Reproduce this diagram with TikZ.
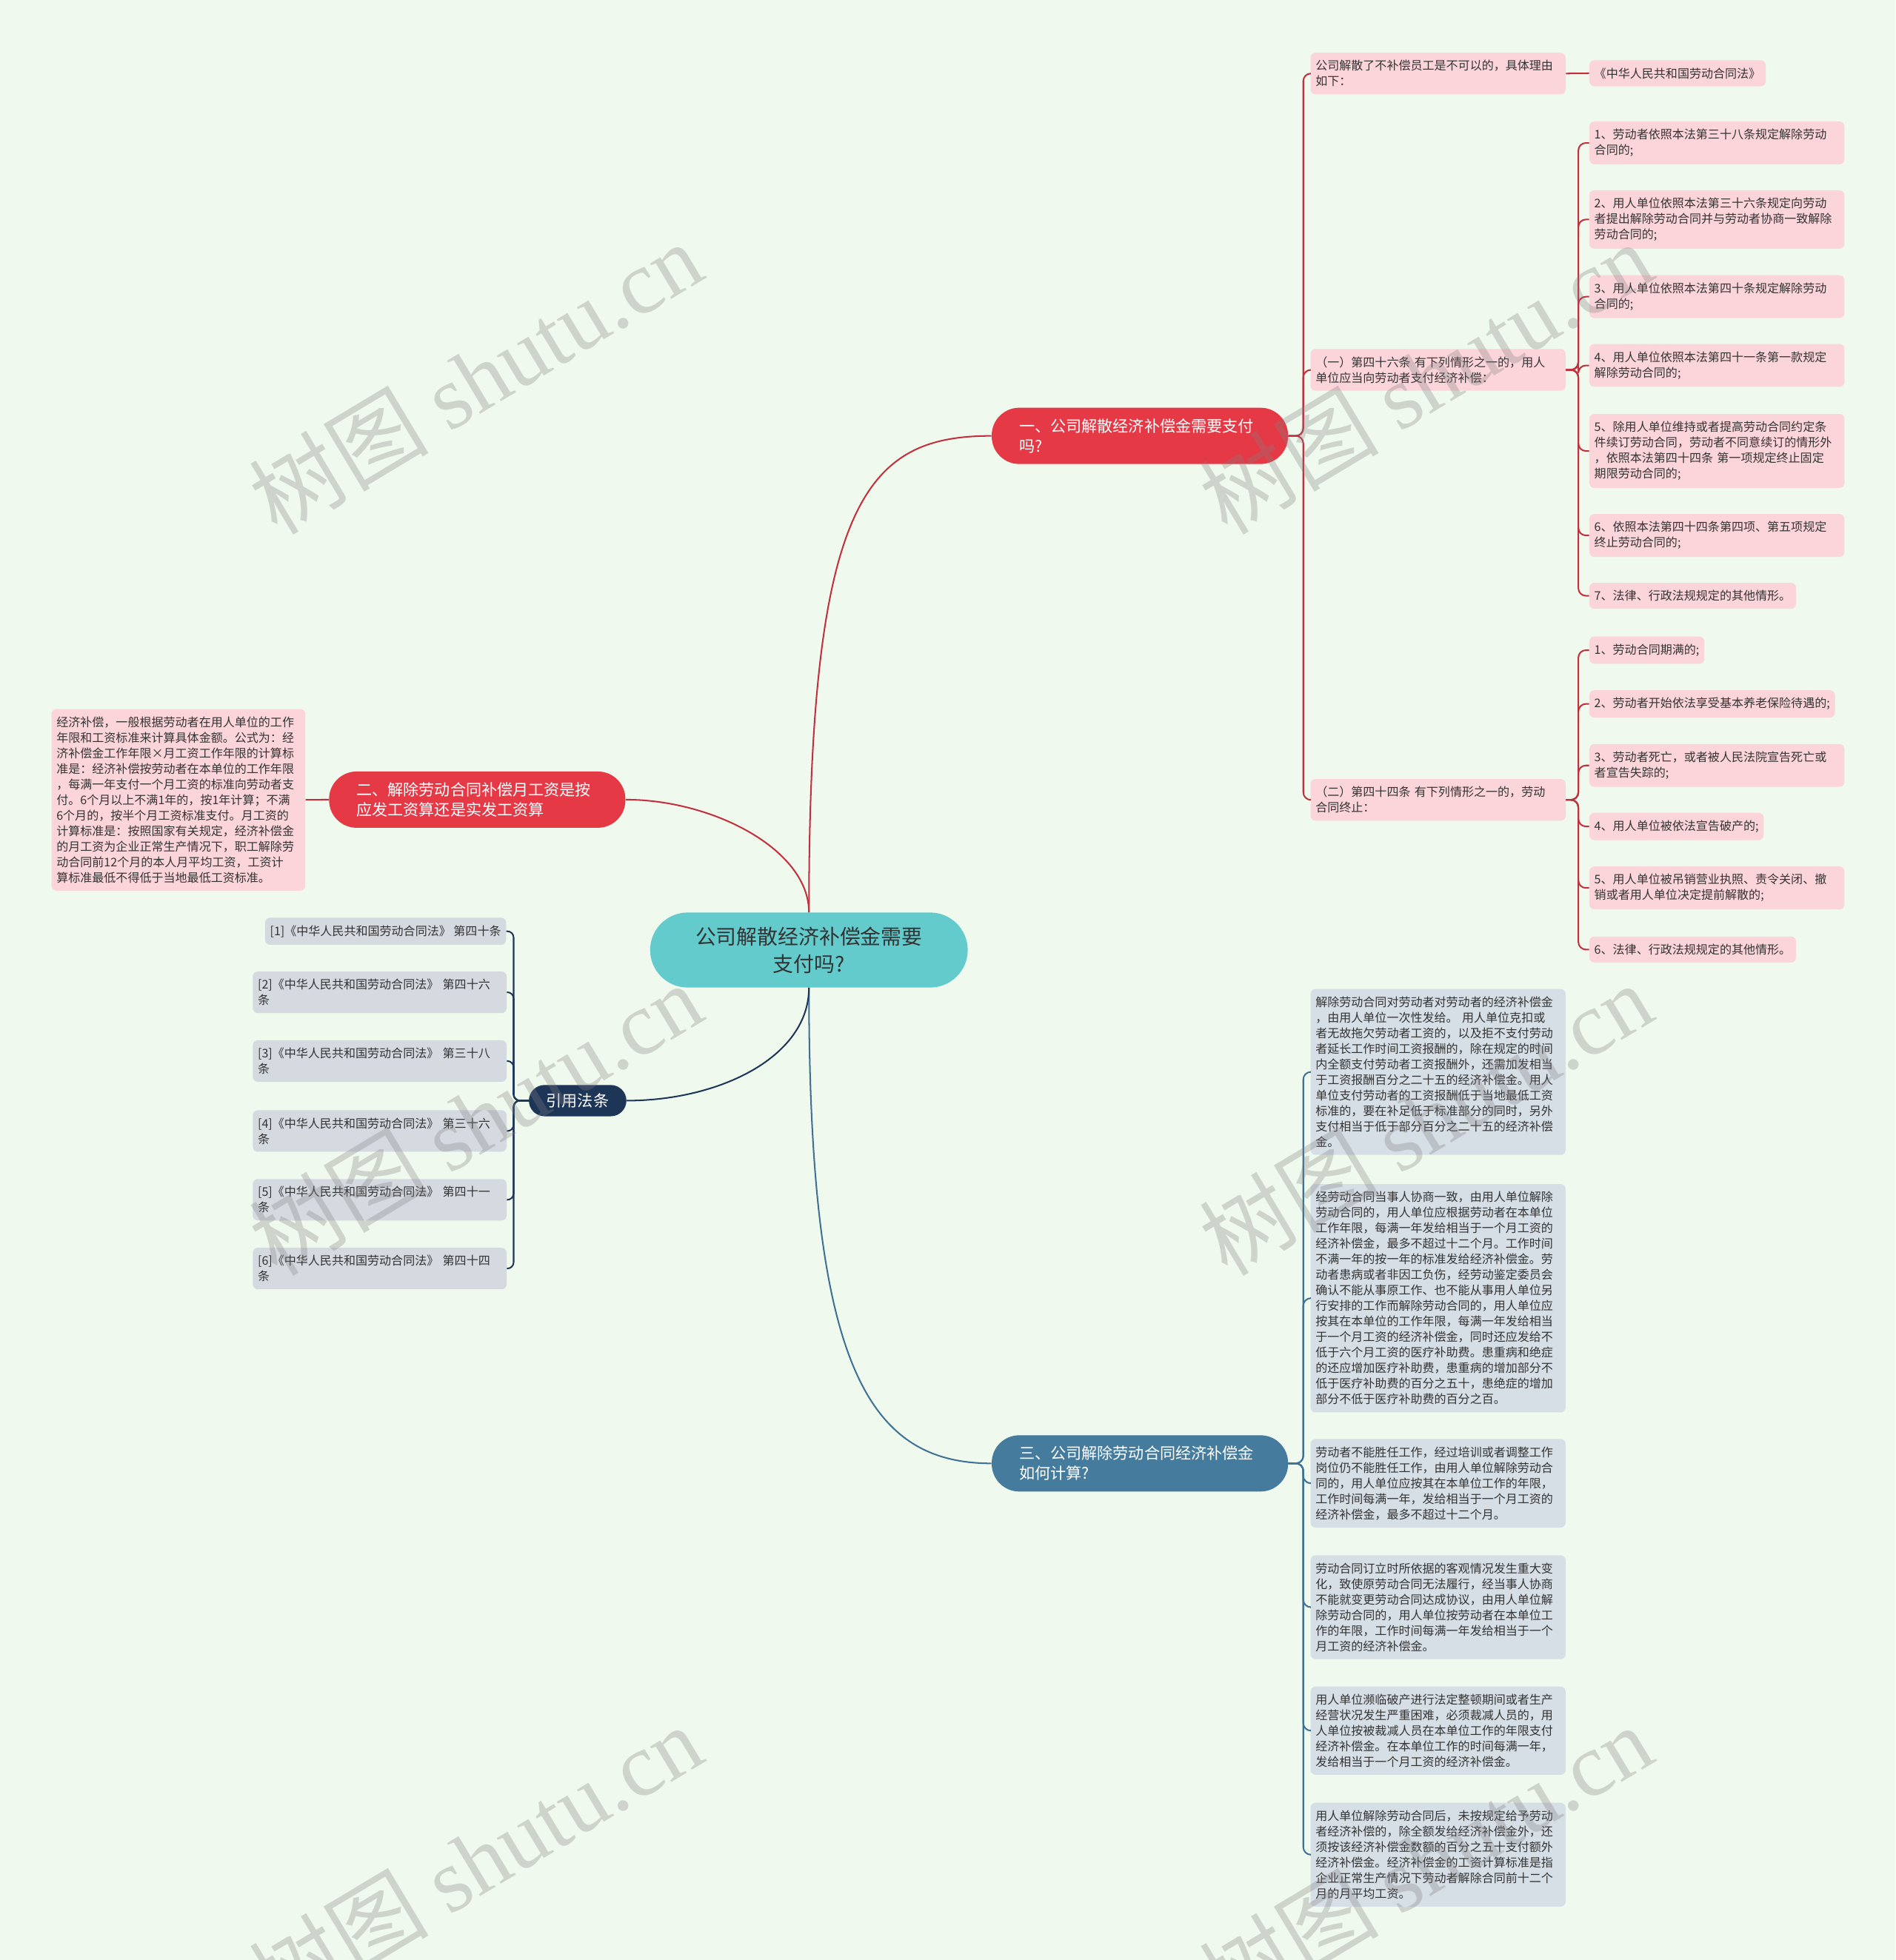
\documentclass[tikz,border=0pt]{standalone}
\usepackage{fontspec}
\setmainfont{Noto Sans CJK SC}
\newfontfamily\wmfont{Liberation Serif}
\usetikzlibrary{positioning}

\definecolor{bgc}{HTML}{F0F9EE}
\definecolor{tealc}{HTML}{64CBCD}
\definecolor{redc}{HTML}{E63946}
\definecolor{redln}{HTML}{C0303D}
\definecolor{pinkc}{HTML}{FBD5DA}
\definecolor{bluec}{HTML}{457B9D}
\definecolor{blueln}{HTML}{3E7193}
\definecolor{greyc}{HTML}{D6DEE6}
\definecolor{navyc}{HTML}{1D3557}
\definecolor{citec}{HTML}{D5D9E0}
\definecolor{txt}{HTML}{333333}

\begin{document}
\begin{tikzpicture}[x=1pt, y=-1pt,
    roottopic/.style={fill=tealc, rounded corners=30pt, text width=200pt, inner xsep=27pt, minimum height=60pt, align=center, text=txt, font=\fontsize{16.5}{22}\selectfont},
    topic/.style={rounded corners=22pt, text width=193pt, inner xsep=22pt, inner ysep=0pt, minimum height=45pt, align=left, text=white, font=\fontsize{12.5}{16}\selectfont, anchor=north west},
    citetopic/.style={fill=navyc, rounded corners=12.5pt, minimum width=78pt, minimum height=25pt, inner sep=0pt, text=white, font=\fontsize{12.5}{16}\selectfont},
    leaf/.style={rounded corners=4pt, inner xsep=4pt, inner ysep=6pt, align=left, text=txt, font=\fontsize{9.5}{12.45}\selectfont, anchor=north west},
    wide/.style={text width=196pt},
    pinkleaf/.style={leaf, fill=pinkc},
    greyleaf/.style={leaf, fill=greyc, wide},
    citeleaf/.style={leaf, fill=citec},
    redline/.style={draw=redln, line width=1.2pt},
    blueline/.style={draw=blueln, line width=1.2pt},
    navyline/.style={draw=navyc, line width=1.2pt},
    wmark/.style={text=gray, opacity=0.3, font=\fontsize{72}{72}\selectfont, rotate=31}]

    % 背景
    \fill[bgc] (0,0) rectangle (1516,1568);
    \useasboundingbox (0,0) rectangle (1516,1568);

    % 中心主题
    \node[roottopic] (root) at (647,760) {公司解散经济补偿金需要\\支付吗?};

    % 一级分支
    \node[topic, fill=redc] (b1) at (793,326) {一、公司解散经济补偿金需要支付\\吗?};
    \node[topic, fill=redc] (b2) at (263,617) {二、解除劳动合同补偿月工资是按\\应发工资算还是实发工资算};
    \node[topic, fill=bluec] (b3) at (793,1148) {三、公司解除劳动合同经济补偿金\\如何计算?};
    \node[citetopic] (cite) at (462,880.5) {引用法条};

    % 分支一
    \node[pinkleaf, wide] (r1) at (1048,42) {公司解散了不补偿员工是不可以的，具体理由\\如下：};
    \node[pinkleaf] (law) at (1271,48) {《中华人民共和国劳动合同法》};
    \node[pinkleaf, wide] (r2) at (1048,279) {（一）第四十六条 有下列情形之一的，用人\\单位应当向劳动者支付经济补偿：};
    \node[pinkleaf, wide] (r3) at (1048,623) {（二）第四十四条 有下列情形之一的，劳动\\合同终止：};

    \node[pinkleaf, wide] (a1) at (1271,97) {1、劳动者依照本法第三十八条规定解除劳动\\合同的;};
    \node[pinkleaf, wide] (a2) at (1271,152) {2、用人单位依照本法第三十六条规定向劳动\\者提出解除劳动合同并与劳动者协商一致解除\\劳动合同的;};
    \node[pinkleaf, wide] (a3) at (1271,220) {3、用人单位依照本法第四十条规定解除劳动\\合同的;};
    \node[pinkleaf, wide] (a4) at (1271,275) {4、用人单位依照本法第四十一条第一款规定\\解除劳动合同的;};
    \node[pinkleaf, wide] (a5) at (1271,331) {5、除用人单位维持或者提高劳动合同约定条\\件续订劳动合同，劳动者不同意续订的情形外\\，依照本法第四十四条 第一项规定终止固定\\期限劳动合同的;};
    \node[pinkleaf, wide] (a6) at (1271,411) {6、依照本法第四十四条第四项、第五项规定\\终止劳动合同的;};
    \node[pinkleaf] (a7) at (1271,466) {7、法律、行政法规规定的其他情形。};

    \node[pinkleaf] (c1) at (1271,509) {1、劳动合同期满的;};
    \node[pinkleaf] (c2) at (1271,552) {2、劳动者开始依法享受基本养老保险待遇的;};
    \node[pinkleaf, wide] (c3) at (1271,595) {3、劳动者死亡，或者被人民法院宣告死亡或\\者宣告失踪的;};
    \node[pinkleaf] (c4) at (1271,650) {4、用人单位被依法宣告破产的;};
    \node[pinkleaf, wide] (c5) at (1271,693) {5、用人单位被吊销营业执照、责令关闭、撤\\销或者用人单位决定提前解散的;};
    \node[pinkleaf] (c6) at (1271,749) {6、法律、行政法规规定的其他情形。};

    % 分支二
    \node[pinkleaf, text width=195pt] (calc) at (41,567) {经济补偿，一般根据劳动者在用人单位的工作\\年限和工资标准来计算具体金额。公式为：经\\济补偿金工作年限×月工资工作年限的计算标\\准是：经济补偿按劳动者在本单位的工作年限\\，每满一年支付一个月工资的标准向劳动者支\\付。6个月以上不满1年的，按1年计算；不满\\6个月的，按半个月工资标准支付。月工资的\\计算标准是：按照国家有关规定，经济补偿金\\的月工资为企业正常生产情况下，职工解除劳\\动合同前12个月的本人月平均工资，工资计\\算标准最低不得低于当地最低工资标准。};

    % 分支三
    \node[greyleaf] (s1) at (1048,791) {解除劳动合同对劳动者对劳动者的经济补偿金\\，由用人单位一次性发给。 用人单位克扣或\\者无故拖欠劳动者工资的，以及拒不支付劳动\\者延长工作时间工资报酬的，除在规定的时间\\内全额支付劳动者工资报酬外，还需加发相当\\于工资报酬百分之二十五的经济补偿金。用人\\单位支付劳动者的工资报酬低于当地最低工资\\标准的，要在补足低于标准部分的同时，另外\\支付相当于低于部分百分之二十五的经济补偿\\金。};
    \node[greyleaf] (s2) at (1048,947) {经劳动合同当事人协商一致，由用人单位解除\\劳动合同的，用人单位应根据劳动者在本单位\\工作年限，每满一年发给相当于一个月工资的\\经济补偿金，最多不超过十二个月。工作时间\\不满一年的按一年的标准发给经济补偿金。劳\\动者患病或者非因工负伤，经劳动鉴定委员会\\确认不能从事原工作、也不能从事用人单位另\\行安排的工作而解除劳动合同的，用人单位应\\按其在本单位的工作年限，每满一年发给相当\\于一个月工资的经济补偿金，同时还应发给不\\低于六个月工资的医疗补助费。患重病和绝症\\的还应增加医疗补助费，患重病的增加部分不\\低于医疗补助费的百分之五十，患绝症的增加\\部分不低于医疗补助费的百分之百。};
    \node[greyleaf] (s3) at (1048,1151) {劳动者不能胜任工作，经过培训或者调整工作\\岗位仍不能胜任工作，由用人单位解除劳动合\\同的，用人单位应按其在本单位工作的年限，\\工作时间每满一年，发给相当于一个月工资的\\经济补偿金，最多不超过十二个月。};
    \node[greyleaf] (s4) at (1048,1244) {劳动合同订立时所依据的客观情况发生重大变\\化，致使原劳动合同无法履行，经当事人协商\\不能就变更劳动合同达成协议，由用人单位解\\除劳动合同的，用人单位按劳动者在本单位工\\作的年限，工作时间每满一年发给相当于一个\\月工资的经济补偿金。};
    \node[greyleaf] (s5) at (1048,1349) {用人单位濒临破产进行法定整顿期间或者生产\\经营状况发生严重困难，必须裁减人员的，用\\人单位按被裁减人员在本单位工作的年限支付\\经济补偿金。在本单位工作的时间每满一年，\\发给相当于一个月工资的经济补偿金。};
    \node[greyleaf] (s6) at (1048,1442) {用人单位解除劳动合同后，未按规定给予劳动\\者经济补偿的，除全额发给经济补偿金外，还\\须按该经济补偿金数额的百分之五十支付额外\\经济补偿金。经济补偿金的工资计算标准是指\\企业正常生产情况下劳动者解除合同前十二个\\月的月平均工资。};

    % 引用法条
    \node[citeleaf, anchor=north east] (k1) at (405,734) {[1]《中华人民共和国劳动合同法》 第四十条};
    \node[citeleaf, text width=195pt] (k2) at (202,777) {[2]《中华人民共和国劳动合同法》 第四十六\\条};
    \node[citeleaf, text width=195pt] (k3) at (202,832) {[3]《中华人民共和国劳动合同法》 第三十八\\条};
    \node[citeleaf, text width=195pt] (k4) at (202,888) {[4]《中华人民共和国劳动合同法》 第三十六\\条};
    \node[citeleaf, text width=195pt] (k5) at (202,943) {[5]《中华人民共和国劳动合同法》 第四十一\\条};
    \node[citeleaf, text width=195pt] (k6) at (202,998) {[6]《中华人民共和国劳动合同法》 第四十四\\条};

    % 中心到一级分支的连线
    \draw[redline] (root.north) .. controls +(0,-330) and +(-100,0) .. (b1.west);
    \draw[redline] (root.north) .. controls +(0,-50) and +(70,0) .. (b2.east);
    \draw[blueline] (root.south) .. controls +(0,300) and +(-100,0) .. (b3.west);
    \draw[navyline] (root.south) .. controls +(0,55) and +(75,0) .. (cite.east);

    % 二级连线
    \foreach \c in {r1,r2,r3}
        \draw[redline, rounded corners=6pt] (b1.east) -- ++(12,0) |- (\c.west);
    \draw[redline] (r1.east) -- (law.west);
    \foreach \c in {a1,a2,a3,a4,a5,a6,a7}
        \draw[redline, rounded corners=6pt] (r2.east) -- ++(10,0) |- (\c.west);
    \foreach \c in {c1,c2,c3,c4,c5,c6}
        \draw[redline, rounded corners=6pt] (r3.east) -- ++(10,0) |- (\c.west);
    \draw[redline] (b2.west) -- (calc.east);
    \foreach \c in {s1,s2,s3,s4,s5,s6}
        \draw[blueline, rounded corners=6pt] (b3.east) -- ++(12,0) |- (\c.west);
    \foreach \c in {k1,k2,k3,k4,k5,k6}
        \draw[navyline, rounded corners=5pt] (cite.west) -- ++(-12,0) |- (\c.east);

    % 水印
    \foreach \wx/\wy in {380/302, 1140/302, 380/895, 1140/895, 380/1488, 1140/1488}
        \node[wmark] (wm\wx\wy) at (\wx,\wy) {树图 {\wmfont shutu.cn}};
\end{tikzpicture}
\end{document}
